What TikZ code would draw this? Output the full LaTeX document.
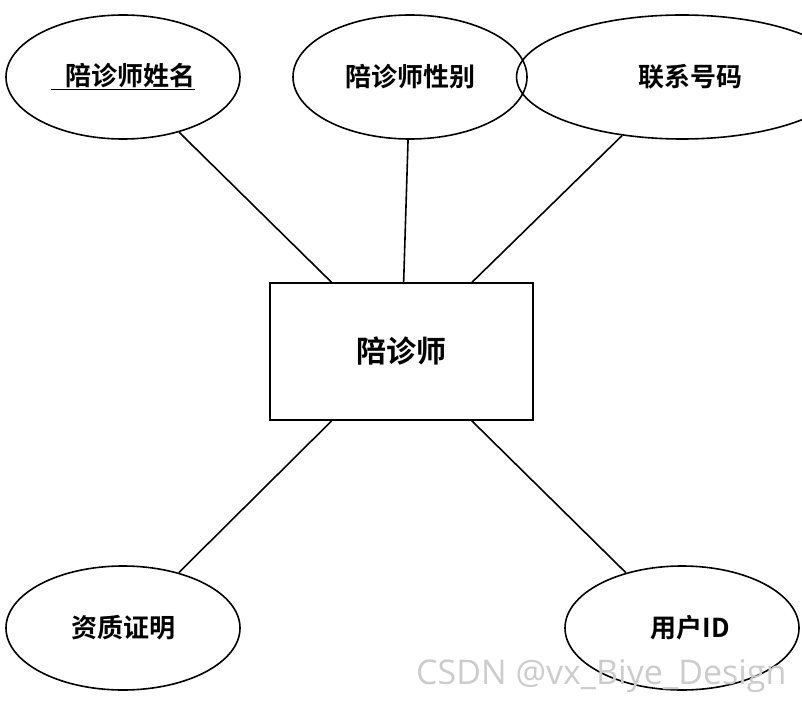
\documentclass[tikz,border=0pt]{standalone}
\usepackage{fontspec}
\newfontfamily\cjk[BoldFont={Noto Sans CJK SC Bold}]{Noto Sans CJK SC}
\begin{document}
\begin{tikzpicture}[x=1pt,y=-1pt,
  attr/.style={draw,line width=1.6pt,ellipse,minimum width=234pt,minimum height=124pt,inner sep=0pt,font=\cjk\bfseries\fontsize{26}{30}\selectfont},
  ent/.style={draw,line width=1.6pt,rectangle,minimum width=263pt,minimum height=137pt,font=\cjk\bfseries\fontsize{30}{34}\selectfont},
  lk/.style={line width=1.6pt}]
\usetikzlibrary{shapes.geometric}
\useasboundingbox (0,0) rectangle (802,703);
\node[ent] (r) at (401.5,351.5) {陪诊师};
\node[attr] (a1) at (123,77) {\underline{\phantom{x}陪诊师姓名}};
\node[attr] (a2) at (410,77) {\phantom{}陪诊师性别};
\node[attr, text width=234pt, align=center] (a3) at (682,77) {\hspace*{16pt}联系号码};
\node[attr] (a4) at (123,628) {资质证明};
\node[attr] (a5) at (682,628) {\hspace*{16pt}用户ID};
\foreach \a in {a1,a2,a3,a4,a5} \draw[lk] (\a) -- (r);
\node[text=black!20,font=\fontspec{Open Sans}\fontsize{34}{38}\selectfont,anchor=east] (wm) at (790,676) {CSDN @vx\_Biye\_Design};
\end{tikzpicture}
\end{document}
